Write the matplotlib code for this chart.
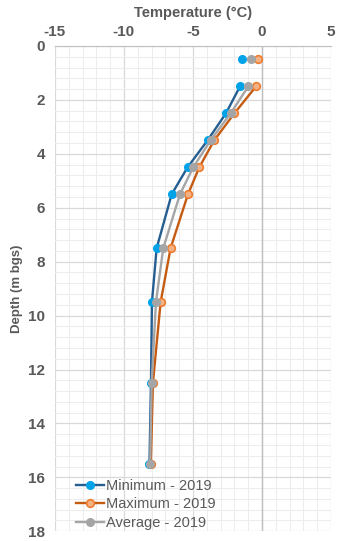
import numpy as np
import matplotlib
matplotlib.use('Agg')
import matplotlib.pyplot as plt
from matplotlib.ticker import MultipleLocator

# profundidades (m bgs); NaN separa el primer punto de la linea
depth = [0.5, np.nan, 1.5, 2.5, 3.5, 4.5, 5.5, 7.5, 9.5, 12.5, 15.5]
t_min = [-1.42, np.nan, -1.59, -2.61, -3.94, -5.39, -6.54, -7.63, -7.97, -8.04, -8.15]
t_max = [-0.26, np.nan, -0.43, -2.00, -3.46, -4.54, -5.36, -6.62, -7.34, -7.90, -8.05]
t_avg = [-0.77, np.nan, -0.99, -2.27, -3.72, -4.98, -5.94, -7.15, -7.68, -7.99, -8.10]

plt.rcParams['font.family'] = ['Liberation Sans', 'DejaVu Sans']
plt.rcParams['axes.unicode_minus'] = False
gris_txt = '#595959'

fig = plt.figure(figsize=(3.37, 5.41), dpi=100)
ax = fig.add_axes([0.163, 0.018, 0.819, 0.897])

ax.plot(t_min, depth, '-o', color='#255E91', mfc='#00A2E8', mec='#00A2E8',
        lw=1.7, ms=5.5, label='Minimum - 2019', zorder=4)
ax.plot(t_max, depth, '-o', color='#C55A11', mfc='#F4B183', mec='#ED7D31',
        mew=1.2, lw=1.7, ms=5.5, label='Maximum - 2019', zorder=3)
ax.plot(t_avg, depth, '-o', color='#A5A5A5', mfc='#A5A5A5', mec='#A5A5A5',
        lw=1.7, ms=5.5, label='Average - 2019', zorder=5)

ax.set_xlim(-15, 5)
ax.set_ylim(18, 0)
ax.xaxis.set_major_locator(MultipleLocator(5))
ax.xaxis.set_minor_locator(MultipleLocator(1))
ax.yaxis.set_major_locator(MultipleLocator(2))
ax.yaxis.set_minor_locator(MultipleLocator(0.4))
ax.xaxis.tick_top()
ax.xaxis.set_label_position('top')

ax.grid(which='major', color='#D9D9D9', lw=0.9)
ax.grid(which='minor', color='#EDEDED', lw=0.8)
ax.set_axisbelow(True)
ax.axvline(0, color='#BFBFBF', lw=1.0, zorder=1)

for s in ['left', 'right', 'bottom']:
    ax.spines[s].set_visible(False)
ax.spines['top'].set_color('#BFBFBF')
ax.tick_params(which='both', length=0, colors=gris_txt, labelsize=11)
ax.tick_params(axis='x', pad=5)
ax.tick_params(axis='y', pad=7)
for lab in ax.get_xticklabels() + ax.get_yticklabels():
    lab.set_fontweight('bold')

ax.set_xlabel('Temperature (°C)', fontsize=10.5, fontweight='bold', color=gris_txt, labelpad=6)
ax.set_ylabel('Depth (m bgs)', fontsize=9.5, fontweight='bold', color=gris_txt, labelpad=4)

leg = ax.legend(loc='lower left', bbox_to_anchor=(0.03, -0.025), frameon=False,
                fontsize=10.5, handlelength=1.9, handletextpad=0.15, labelspacing=0.33)
for t in leg.get_texts():
    t.set_color(gris_txt)

fig.savefig('out.png', dpi=100)
